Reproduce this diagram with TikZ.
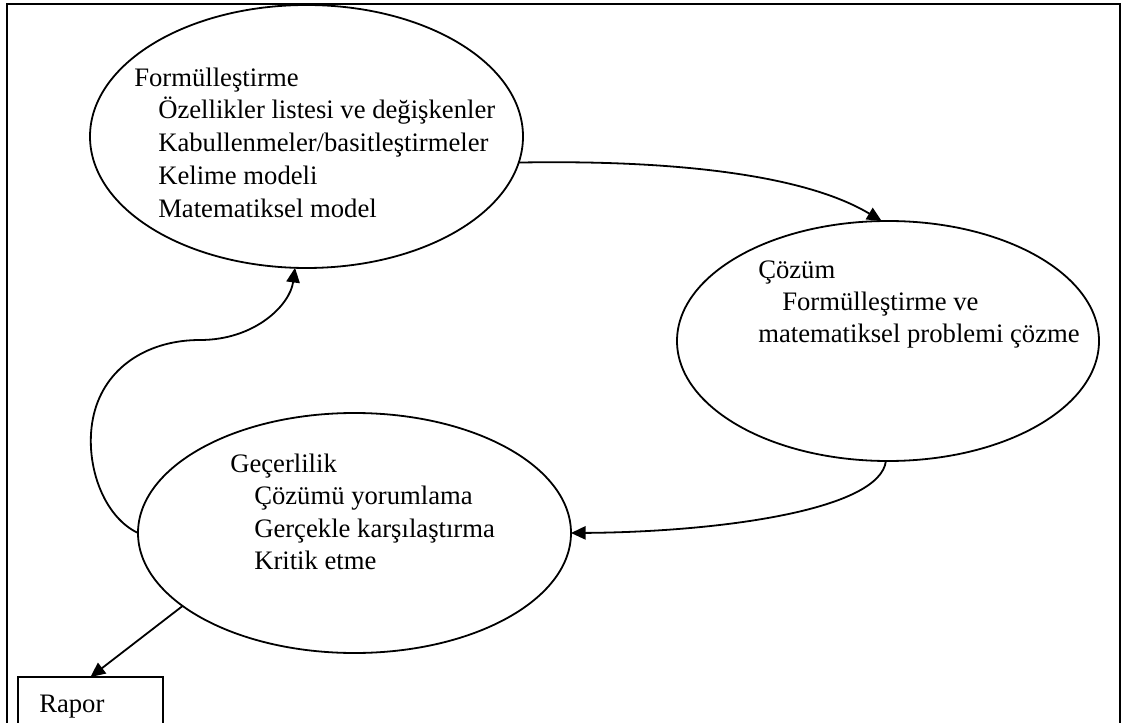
\documentclass[tikz,border=0pt]{standalone}
\usepackage{fontspec}
\setmainfont{Liberation Serif}
\usetikzlibrary{shapes.geometric,arrows.meta}
\begin{document}
\begin{tikzpicture}[x=0.75pt,y=-0.75pt,
  stage/.style={ellipse,draw,line width=1.35pt,inner sep=0pt,outer sep=0pt},
  txt/.style={anchor=base west,inner sep=0pt,font=\fontsize{20}{24}\selectfont},
  flow/.style={line width=1.35pt,-{Triangle[length=11pt,width=10pt]}},
  report/.style={draw,line width=1.35pt,anchor=north west,inner sep=0pt,outer sep=0pt,
    minimum width=108.75pt,minimum height=70pt}]
\useasboundingbox (0,0) rectangle (1124,723);
\clip (0,0) rectangle (1124,723);
% outer frame
\draw[line width=1.6pt] (7,4) rectangle (1120,800);

% the three stages
\node[stage,minimum width=324.75pt,minimum height=197.25pt] (f) at (306.5,136.5) {};
\node[stage,minimum width=316.5pt,minimum height=180pt] (s) at (888,341) {};
\node[stage,minimum width=324.75pt,minimum height=180pt] (g) at (354.5,533) {};

% Formülleştirme
\node[txt] (f1) at (134,87)  {Formülleştirme};
\node[txt] (f2) at (158,119) {Özellikler listesi ve değişkenler};
\node[txt] (f3) at (158,152) {Kabullenmeler/basitleştirmeler};
\node[txt] (f4) at (158,185) {Kelime modeli};
\node[txt] (f5) at (158,218) {Matematiksel model};

% Çözüm
\node[txt] (s1) at (758,279) {Çözüm};
\node[txt] (s2) at (782,311) {Formülleştirme ve};
\node[txt] (s3) at (758,343) {matematiksel problemi çözme};

% Geçerlilik
\node[txt] (g1) at (230,472) {Geçerlilik};
\node[txt] (g2) at (254,504) {Çözümü yorumlama};
\node[txt] (g3) at (254,537) {Gerçekle karşılaştırma};
\node[txt] (g4) at (254,569) {Kritik etme};

% report box
\node[report] (r) at (18,677) {};
\node[txt] (rt) at (39,712) {Rapor};

% connectors
\draw[flow] (f.-7) .. controls (660,160) and (800,172) .. (s.93);
\draw[flow] (s.-91) .. controls (880,510) and (720,532) .. (g.east);
\draw[flow] (g.west) .. controls (100,515) and (82,455) .. (95,410)
  .. controls (108,365) and (150,340) .. (200,340)
  .. controls (255,340) and (290,305) .. (f.-95);
\draw[flow] (g.-157) -- (r.north);
\end{tikzpicture}
\end{document}
